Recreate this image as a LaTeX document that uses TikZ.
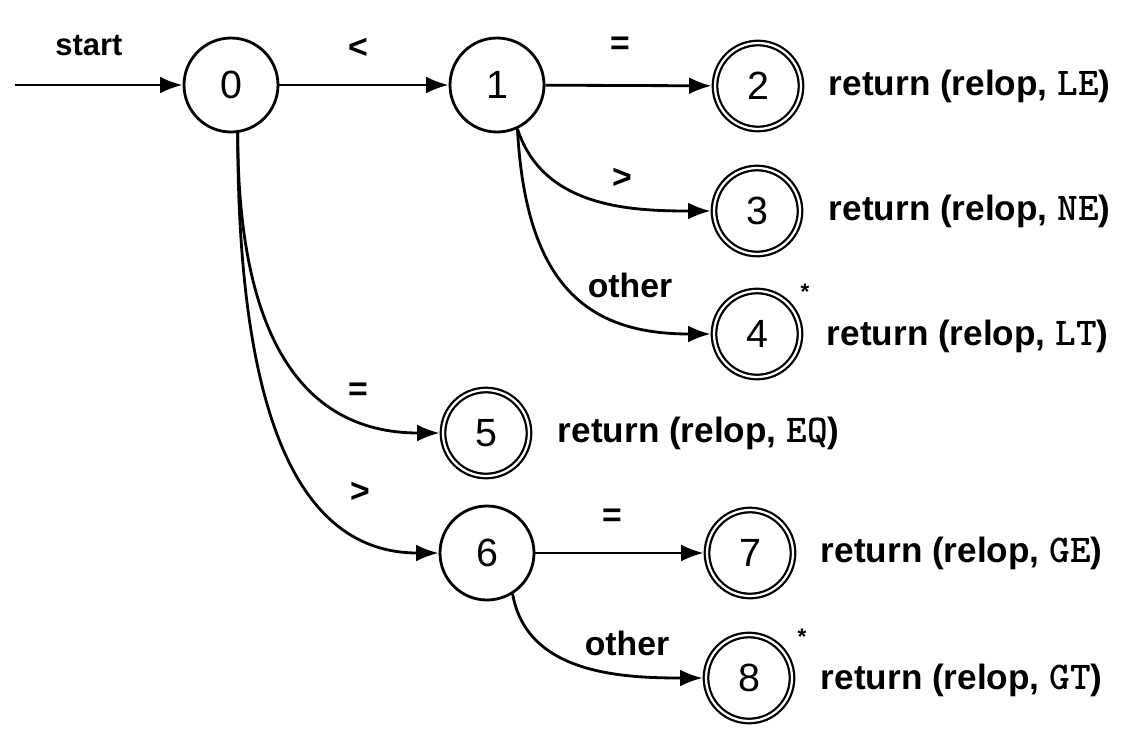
\documentclass[tikz,border=0pt]{standalone}
\usepackage{fontspec}
\setmainfont{Liberation Sans}
\usetikzlibrary{arrows.meta}

\newcommand{\tok}[1]{{\ttfamily\fontsize{28}{30}\selectfont #1}}

\begin{document}
\begin{tikzpicture}[x=0.25mm, y=-0.25mm,
    state/.style={circle, draw, line width=2pt, minimum size=23.5mm, inner sep=0pt,
      font=\fontsize{28}{32}\selectfont},
    accept/.style={state, minimum size=21.5mm, line width=1.6pt, double, double distance=1.6pt, outer sep=2.4pt},
    trans/.style={line width=2pt, -{Latex[length=16pt, width=12pt]}},
    lbl/.style={font=\bfseries\fontsize{24}{28}\selectfont},
    ret/.style={anchor=west, font=\bfseries\fontsize{25}{30}\selectfont},
    star/.style={font=\bfseries\fontsize{16}{18}\selectfont}]
    \useasboundingbox (0,0) rectangle (1128,739);

    % states
    \node[state]  (s0) at (231, 85) {0};
    \node[state]  (s1) at (497, 85) {1};
    \node[accept] (s2) at (758, 86) {2};
    \node[accept] (s3) at (757, 211) {3};
    \node[accept] (s4) at (757, 334) {4};
    \node[accept] (s5) at (486, 433) {5};
    \node[state]  (s6) at (487, 553) {6};
    \node[accept] (s7) at (750, 553) {7};
    \node[accept] (s8) at (749, 678) {8};

    % retract marks
    \node[star] (m4) at (805, 292) {*};
    \node[star] (m8) at (802, 637) {*};

    % actions
    \node[ret] (r2) at (824, 86)  {return (relop, \tok{LE})};
    \node[ret] (r3) at (824, 211) {return (relop, \tok{NE})};
    \node[ret] (r4) at (822, 336) {return (relop, \tok{LT})};
    \node[ret] (r5) at (553, 433) {return (relop, \tok{EQ})};
    \node[ret] (r7) at (816, 553) {return (relop, \tok{GE})};
    \node[ret] (r8) at (816, 680) {return (relop, \tok{GT})};

    % start arrow
    \coordinate (in) at (15, 85);
    \node[lbl, font=\bfseries\fontsize{22}{26}\selectfont] (st) at (89, 46) {start};
    \draw[trans] (in) -- (s0);

    % transitions
    \draw[trans] (s0) -- (s1);
    \node[lbl] (l01) at (358, 48) {<};
    \draw[trans] (s1) -- (s2);
    \node[lbl] (l12) at (620, 46) {=};
    \draw[trans] (s1.-65) to[out=-72, in=180] (s3);
    \node[lbl] (l13) at (622, 178) {>};
    \draw[trans] (s1.-65) to[out=-87, in=180, out looseness=1.45, in looseness=1.1] (s4);
    \node[lbl] (l14) at (630, 285) {other};
    \draw[trans] (s0.-82) to[out=-90, in=180, out looseness=1.4] (s5);
    \node[lbl] (l05) at (358, 392) {=};
    \draw[trans] (s0.-82) to[out=-90, in=180, out looseness=1.55, in looseness=0.77] (s6);
    \node[lbl] (l06) at (360, 492) {>};
    \draw[trans] (s6) -- (s7);
    \node[lbl] (l67) at (612, 518) {=};
    \draw[trans] (s6.-58) to[out=-80, in=180] (s8);
    \node[lbl] (l68) at (627, 643) {other};
\end{tikzpicture}
\end{document}
